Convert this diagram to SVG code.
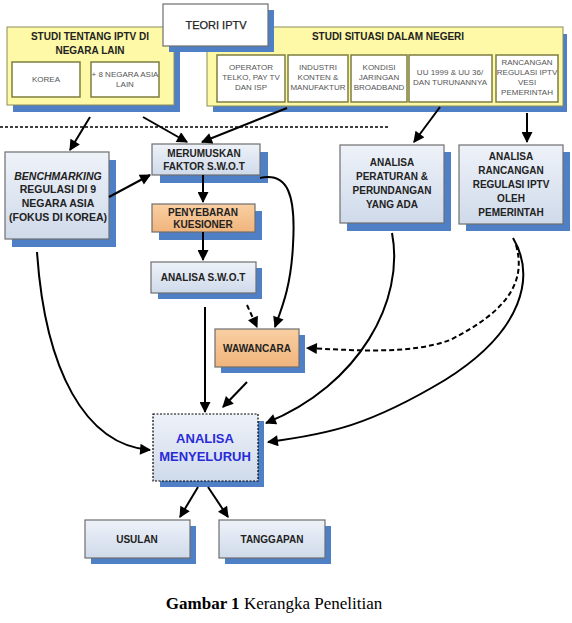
<svg xmlns="http://www.w3.org/2000/svg" width="572" height="623" viewBox="0 0 572 623">
<defs>
<linearGradient id="gb" x1="0" y1="0" x2="0" y2="1"><stop offset="0" stop-color="#eef2f9"/><stop offset="1" stop-color="#cfdaea"/></linearGradient>
<linearGradient id="go" x1="0" y1="0" x2="0" y2="1"><stop offset="0" stop-color="#f9cfa2"/><stop offset="1" stop-color="#f0b47c"/></linearGradient>
<marker id="ah" viewBox="0 0 10 10" refX="9" refY="5" markerWidth="6" markerHeight="5.5" orient="auto" markerUnits="strokeWidth"><path d="M0,0 L10,5 L0,10 z" fill="#000"/></marker>
</defs>
<style>
.sh{fill:#4f7fc4}
.yl{fill:#fdf9a6;stroke:#8c8c5a;stroke-width:1}
.sb{fill:#fff;stroke:#7d7d40;stroke-width:1.5}
.bx{fill:url(#gb);stroke:#6e6e6e;stroke-width:1.2}
.or{fill:url(#go);stroke:#6e6e6e;stroke-width:1.2}
.t{font-family:"Liberation Sans",Arial,sans-serif;font-weight:bold;font-size:10px;fill:#222;text-anchor:middle}
.b{font-size:10.5px}
.s{font-family:"Liberation Sans",Arial,sans-serif;font-size:8px;fill:#555;text-anchor:middle}
.m{fill:#2a2ad8;font-size:13px}
.c{fill:none;stroke:#000;stroke-width:2;marker-end:url(#ah)}
.d{stroke-dasharray:5,3}
</style>
<rect width="572" height="623" fill="#fff"/>
<line x1="0" y1="127" x2="390" y2="127" stroke="#000" stroke-width="1.5" stroke-dasharray="3,2"/>

<g id="studi-lain">
<rect class="sh" x="13" y="34" width="167" height="78"/>
<rect class="yl" x="7" y="27" width="167" height="78"/>
<text class="t" x="90" y="40">STUDI TENTANG IPTV DI</text>
<text class="t" x="90" y="54">NEGARA LAIN</text>
<rect class="sb" x="12" y="62" width="68" height="35"/>
<text class="s" x="46" y="82">KOREA</text>
<rect class="sb" x="91" y="62" width="68" height="35"/>
<text class="s" x="125" y="77">+ 8 NEGARA ASIA</text>
<text class="s" x="125" y="87">LAIN</text>
</g>

<g id="studi-dalam">
<rect class="sh" x="213" y="34" width="354" height="78"/>
<rect class="yl" x="207" y="27" width="356" height="79"/>
<text class="t" x="388" y="40">STUDI SITUASI DALAM NEGERI</text>
<rect class="sb" x="217" y="55" width="68" height="47"/>
<text class="s" x="251" y="70">OPERATOR</text>
<text class="s" x="251" y="80">TELKO, PAY TV</text>
<text class="s" x="251" y="90">DAN ISP</text>
<rect class="sb" x="288" y="55" width="60" height="47"/>
<text class="s" x="318" y="70">INDUSTRI</text>
<text class="s" x="318" y="80">KONTEN &amp;</text>
<text class="s" x="318" y="90">MANUFAKTUR</text>
<rect class="sb" x="351" y="55" width="56" height="47"/>
<text class="s" x="379" y="70">KONDISI</text>
<text class="s" x="379" y="80">JARINGAN</text>
<text class="s" x="379" y="90">BROADBAND</text>
<rect class="sb" x="409" y="55" width="83" height="47"/>
<text class="s" x="450" y="75">UU 1999 &amp; UU 36/</text>
<text class="s" x="450" y="85">DAN TURUNANNYA</text>
<rect class="sb" x="496" y="55" width="62" height="47"/>
<text class="s" x="527" y="65">RANCANGAN</text>
<text class="s" x="527" y="75">REGULASI IPTV</text>
<text class="s" x="527" y="85">VESI</text>
<text class="s" x="527" y="95">PEMERINTAH</text>
</g>

<g id="teori-iptv">
<rect class="sh" x="169" y="10" width="105" height="42"/>
<rect x="163" y="4" width="105" height="42" fill="#fff" stroke="#6e6e6e" stroke-width="1.2"/>
<text x="216" y="29" font-family="Liberation Sans,Arial,sans-serif" font-size="11" fill="#222" text-anchor="middle" stroke="#222" stroke-width="0.25">TEORI IPTV</text>
</g>

<g id="benchmarking">
<rect class="sh" x="12" y="160" width="104" height="87"/>
<rect class="bx" x="5" y="152" width="104" height="87"/>
<text class="t b" x="58" y="180" font-style="italic">BENCHMARKING</text>
<text class="t b" x="58" y="193">REGULASI DI 9</text>
<text class="t b" x="58" y="207">NEGARA ASIA</text>
<text class="t b" x="58" y="221">(FOKUS DI KOREA)</text>
</g>

<g id="merumuskan">
<rect class="sh" x="160" y="152" width="108" height="31"/>
<rect class="bx" x="152" y="144" width="108" height="31"/>
<text class="t" x="204" y="157">MERUMUSKAN</text>
<text class="t" x="204" y="170">FAKTOR S.W.O.T</text>
</g>

<g id="penyebaran">
<rect class="sh" x="159" y="211" width="103" height="29"/>
<rect class="or" x="152" y="204" width="103" height="28"/>
<text class="t" x="203" y="216">PENYEBARAN</text>
<text class="t" x="203" y="228">KUESIONER</text>
</g>

<g id="analisa-swot">
<rect class="sh" x="158" y="268" width="104" height="31"/>
<rect class="bx" x="151" y="262" width="105" height="31"/>
<text class="t" x="203" y="281">ANALISA S.W.O.T</text>
</g>

<g id="wawancara">
<rect class="sh" x="221" y="335" width="84" height="38"/>
<rect class="or" x="215" y="329" width="84" height="38"/>
<text class="t" x="257" y="352">WAWANCARA</text>
</g>

<g id="analisa-peraturan">
<rect class="sh" x="347" y="152" width="104" height="79"/>
<rect class="bx" x="340" y="145" width="104" height="78"/>
<text class="t" x="392" y="166">ANALISA</text>
<text class="t" x="392" y="180">PERATURAN &amp;</text>
<text class="t" x="392" y="194">PERUNDANGAN</text>
<text class="t" x="392" y="208">YANG ADA</text>
</g>

<g id="analisa-rancangan">
<rect class="sh" x="466" y="152" width="104" height="79"/>
<rect class="bx" x="459" y="145" width="104" height="79"/>
<text class="t" x="511" y="160">ANALISA</text>
<text class="t" x="511" y="174">RANCANGAN</text>
<text class="t" x="511" y="188">REGULASI IPTV</text>
<text class="t" x="511" y="202">OLEH</text>
<text class="t" x="511" y="216">PEMERINTAH</text>
</g>

<g id="analisa-menyeluruh">
<rect class="sh" x="160" y="421" width="104" height="66"/>
<rect x="153" y="414" width="105" height="67" fill="url(#gb)" stroke="#000" stroke-width="1.2" stroke-dasharray="2,1.5"/>
<text class="t m" x="205" y="443">ANALISA</text>
<text class="t m" x="205" y="461">MENYELURUH</text>
</g>

<g id="usulan">
<rect class="sh" x="91" y="526" width="105" height="38"/>
<rect class="bx" x="85" y="520" width="105" height="38"/>
<text class="t" x="137" y="543">USULAN</text>
</g>

<g id="tanggapan">
<rect class="sh" x="225" y="526" width="106" height="38"/>
<rect class="bx" x="219" y="520" width="106" height="38"/>
<text class="t" x="272" y="543">TANGGAPAN</text>
</g>

<g id="connectors">
<path class="c" d="M90,117 L70,150"/>
<path class="c" d="M143,117 L187,142"/>
<path class="c" d="M287,108 L202,142"/>
<path class="c" d="M440,107 L414,142"/>
<path class="c" d="M527,113 L527,142"/>
<path class="c" d="M109,197 L150,175"/>
<path class="c" d="M203,175 L203,202"/>
<path class="c" d="M203,232 L203,260"/>
<path class="c" d="M205,307 L205,412"/>
<path class="c d" d="M247,305 L257,327"/>
<path class="c" d="M260,178 C288,172 296,195 293,245 C291,285 283,305 275,327"/>
<path class="c" d="M392,233 C405,300 360,385 266,423"/>
<path class="c" d="M513,238 C535,275 525,330 445,380 C370,425 330,434 268,442"/>
<path class="c d" d="M516,245 C526,280 510,310 450,340 C410,355 350,350 307,348"/>
<path class="c" d="M37,252 C45,370 85,445 150,450"/>
<path class="c" d="M247,382 L223,407"/>
<path class="c" d="M198,487 L180,517"/>
<path class="c" d="M208,487 L228,517"/>
</g>

<text x="274" y="609" font-family="Liberation Serif,Times New Roman,serif" font-size="17" text-anchor="middle" fill="#000"><tspan font-weight="bold">Gambar 1</tspan> Kerangka Penelitian</text>
</svg>
